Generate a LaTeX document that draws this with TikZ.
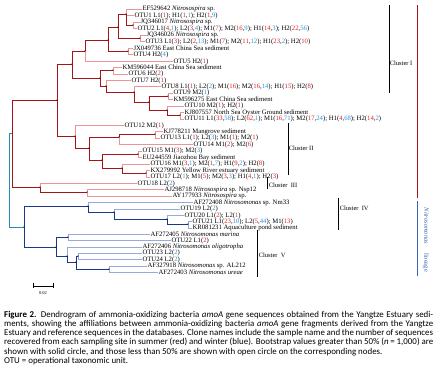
\documentclass[tikz,border=0pt]{standalone}
\usepackage{fontspec}
\setmainfont{Liberation Serif}
\newfontfamily\capfont{Carlito}
\definecolor{darkred}{HTML}{A51419}
\definecolor{pinkred}{HTML}{EB9696}
\definecolor{darkblue}{HTML}{19378C}
\definecolor{paleblue}{HTML}{96AADC}
\definecolor{rootteal}{HTML}{288CB4}
\definecolor{numred}{HTML}{E02020}
\definecolor{numblue}{HTML}{2A8FD8}
\definecolor{lineageblue}{HTML}{3A64B8}
\newcommand{\rn}[1]{\textcolor{numred}{#1}}
\newcommand{\bn}[1]{\textcolor{numblue}{#1}}

\begin{document}
\begin{tikzpicture}[x=1pt,y=-1pt]

% definitions
\tikzstyle{leaflab} = [anchor=west, inner sep=0.3pt, font=\fontsize{6.7}{6.7}\selectfont]
\tikzstyle{clusterlab} = [anchor=west, inner sep=0.6pt, font=\fontsize{6.5}{6.5}\selectfont]
\tikzstyle{rbranch} = [draw=darkred, line width=0.9pt]
\tikzstyle{rtip} = [draw=pinkred, line width=0.9pt]
\tikzstyle{bbranch} = [draw=darkblue, line width=0.9pt]
\tikzstyle{btip} = [draw=paleblue, line width=0.9pt]
\tikzstyle{rootline} = [draw=rootteal, line width=0.9pt]
\tikzstyle{bracket} = [draw=black, line width=0.6pt]

\useasboundingbox (0,0) rectangle (437,374);

% inner nodes
\coordinate (r) at (9,133);
\coordinate (A) at (12,133);
\coordinate (A1) at (57,100);
\coordinate (A2) at (40,187);
\coordinate (X1) at (72,64);
\coordinate (B) at (85,51);
\coordinate (n5) at (108,40);
\coordinate (n3) at (118,27);
\coordinate (n1) at (126,14);
\coordinate (n2) at (133,25);
\coordinate (n4) at (140,38);
\coordinate (n6) at (128,51);
\coordinate (D) at (100,78);
\coordinate (E) at (113,70);
\coordinate (F) at (106,86);
\coordinate (G) at (134,92);
\coordinate (H) at (149,102);
\coordinate (I) at (168,96);
\coordinate (J) at (167,110);
\coordinate (K) at (180,115);
\coordinate (C) at (75,136);
\coordinate (L) at (89,148);
\coordinate (M) at (119,137);
\coordinate (O) at (155,134);
\coordinate (N) at (102,160);
\coordinate (P) at (138,154);
\coordinate (Q) at (122,168);
\coordinate (R) at (146,173);
\coordinate (S) at (87,192);
\coordinate (Bl) at (24,227);
\coordinate (T) at (88,206);
\coordinate (U) at (114,212);
\coordinate (V) at (167,219);
\coordinate (W) at (188,224);
\coordinate (X) at (56,247);
\coordinate (Y) at (68,237);
\coordinate (Z) at (67,256);
\coordinate (Z2) at (76,262);
\coordinate (Z3) at (78,256);
\coordinate (Z4) at (109,269);

% leaves
\node (ef) [leaflab] at (142,9) {EF529642 \textit{Nitrosospira} sp.};
\node (otu1) [leaflab] at (134,15.5) {OTU1 L1(\rn{1}); H1(\rn{1},\bn{1}); H2(\rn{1},\bn{9})};
\node (jq17) [leaflab] at (140,22) {JQ346017 \textit{Nitrosospira} sp.};
\node (otu2) [leaflab] at (137,28.5) {OTU2 L1(\rn{4},\bn{1}); L2(\rn{3},\bn{4}); M1(\rn{7}); M2(\rn{16},\bn{9}); H1(\rn{14},\bn{3}); H2(\rn{22},\bn{56})};
\node (jq26) [leaflab] at (146,35) {JQ346026 \textit{Nitrosospira} sp.};
\node (otu3) [leaflab] at (145,41.5) {OTU3 L1(\rn{3}); L2(\rn{2},\bn{13}); M1(\rn{7}); M2(\rn{11},\bn{12}); H1(\rn{23},\bn{2}); H2(\rn{10})};
\node (jx) [leaflab] at (133,48) {JX049736 East China Sea sediment};
\node (otu4) [leaflab] at (133,54.5) {OTU4 H2(\bn{4})};
\node (otu5) [leaflab] at (173,61.5) {OTU5 H2(\rn{1})};
\node (km44) [leaflab] at (122,67.5) {KM596044 East China Sea sediment};
\node (otu6) [leaflab] at (128,74) {OTU6 H2(\rn{2})};
\node (otu7) [leaflab] at (131,80.5) {OTU7 H2(\rn{1})};
\node (otu8) [leaflab] at (161,86.5) {OTU8 L1(\rn{1}); L2(\bn{2}); M1(\rn{16}); M2(\rn{16},\bn{14}); H1(\rn{15}); H2(\rn{8})};
\node (otu9) [leaflab] at (173,93) {OTU9 M2(\bn{1})};
\node (km75) [leaflab] at (173,99.5) {KM596275 East China Sea sediment};
\node (otu10) [leaflab] at (184,106) {OTU10 M2(\rn{1}); H2(\rn{1})};
\node (kj57) [leaflab] at (184,112.5) {KJ807557 North Sea Oyster Ground sediment};
\node (otu11) [leaflab] at (184,119) {OTU11 L1(\rn{33},\bn{58}); L2(\rn{62},\bn{1}); M1(\rn{16},\bn{71}); M2(\rn{17},\bn{24}); H1(\rn{4},\bn{68}); H2(\rn{14},\bn{2})};
\node (otu12) [leaflab] at (124,125.5) {OTU12 M2(\rn{1})};
\node (kj11) [leaflab] at (163,131.5) {KJ778211 Mangrove sediment};
\node (otu13) [leaflab] at (160,138) {OTU13 L1(\rn{1}); L2(\bn{3}); M1(\rn{1}); M2(\rn{1})};
\node (otu14) [leaflab] at (193,144.5) {OTU14 M1(\rn{2}); M2(\rn{6})};
\node (otu15) [leaflab] at (142,151) {OTU15 M1(\rn{3}); M2(\bn{3})};
\node (eu) [leaflab] at (142,157.5) {EU244559 Jiaozhou Bay sediment};
\node (otu16) [leaflab] at (150,164) {OTU16 M1(\rn{3},\bn{1}); M2(\rn{1},\bn{7}); H1(\rn{9},\bn{2}); H2(\rn{8})};
\node (kx) [leaflab] at (150,170.5) {KX279992 Yellow River estuary sediment};
\node (otu17) [leaflab] at (150,177) {OTU17 L2(\bn{1}); M1(\rn{5}); M2(\rn{3},\bn{3}); H1(\rn{4},\bn{1}); H2(\rn{3})};
\node (otu18) [leaflab] at (137,183.5) {OTU18 L2(\bn{2})};
\node (aj) [leaflab] at (164,189.5) {AJ298718 \textit{Nitrosospira} sp. Nsp12};
\node (ay) [leaflab] at (172,196) {AY177933 \textit{Nitrosospira} sp.};
\node (af08) [leaflab] at (193,202.5) {AF272408 \textit{Nitrosomonas} sp. Nm33};
\node (otu19) [leaflab] at (180,209) {OTU19 L2(\bn{2})};
\node (otu20) [leaflab] at (184,215.5) {OTU20 L1(\rn{2}); L2(\rn{1})};
\node (otu21) [leaflab] at (192,221.5) {OTU21 L1(\rn{23},\bn{10}); L2(\rn{5},\bn{44}); M1(\rn{13})};
\node (kr) [leaflab] at (192,228) {KR081231 Aquaculture pond sediment};
\node (af05) [leaflab] at (150,234) {AF272405 \textit{Nitrosomonas marina}};
\node (otu22) [leaflab] at (171,240.5) {OTU22 L1(\rn{2})};
\node (af06) [leaflab] at (142,247) {AF272406 \textit{Nitrosomonas oligotropha}};
\node (otu23) [leaflab] at (142,253) {OTU23 L2(\bn{2})};
\node (otu24) [leaflab] at (142,259.5) {OTU24 L2(\bn{2})};
\node (af18) [leaflab] at (147,266) {AF327918 \textit{Nitrosomonas} sp. AL212};
\node (af03) [leaflab] at (158,272.5) {AF272403 \textit{Nitrosomonas ureae}};

% tips
\draw [rtip] (n1) |- (ef); \draw [rtip] (n1) |- (otu1);
\draw [rtip] (n2) |- (jq17); \draw [rtip] (n2) |- (otu2);
\draw [rtip] (n4) |- (jq26); \draw [rtip] (n4) |- (otu3);
\draw [rtip] (n6) |- (jx); \draw [rtip] (n6) |- (otu4);
\draw [rtip] (B) |- (otu5);
\draw [rtip] (E) |- (km44); \draw [rtip] (E) |- (otu6);
\draw [rtip] (F) |- (otu7); \draw [rtip] (G) |- (otu8);
\draw [rtip] (I) |- (otu9); \draw [rtip] (I) |- (km75);
\draw [rtip] (J) |- (otu10);
\draw [rtip] (K) |- (kj57); \draw [rtip] (K) |- (otu11);
\draw [rtip] (C) |- (otu12);
\draw [rtip] (O) |- (kj11); \draw [rtip] (O) |- (otu13);
\draw [rtip] (M) |- (otu14);
\draw [rtip] (P) |- (otu15); \draw [rtip] (P) |- (eu);
\draw [rtip] (Q) |- (otu16);
\draw [rtip] (R) |- (kx); \draw [rtip] (R) |- (otu17);
\draw [rtip] (A2) |- (otu18);
\draw [rtip] (S) |- (aj); \draw [rtip] (S) |- (ay);
\draw [btip] (T) |- (af08); \draw [btip] (U) |- (otu19);
\draw [btip] (V) |- (otu20);
\draw [btip] (W) |- (otu21); \draw [btip] (W) |- (kr);
\draw [btip] (Y) |- (af05); \draw [btip] (Y) |- (otu22);
\draw [btip] (Z) |- (af06);
\draw [btip] (Z3) |- (otu23); \draw [btip] (Z3) |- (otu24);
\draw [btip] (Z4) |- (af18); \draw [btip] (Z4) |- (af03);

% inner branches
\draw [rootline] (r) -- (A); \draw [rootline] (r) |- (Bl);
\draw [rbranch] (A) |- (A1); \draw [rbranch] (A) |- (A2);
\draw [rbranch] (A1) |- (X1); \draw [rbranch] (A1) |- (C);
\draw [rbranch] (X1) |- (B); \draw [rbranch] (X1) |- (D);
\draw [rbranch] (B) |- (n5); \draw [rbranch] (n5) |- (n3); \draw [rbranch] (n5) |- (n6);
\draw [rbranch] (n3) |- (n1); \draw [rbranch] (n3) |- (n4); \draw [rbranch] (n1) |- (n2);
\draw [rbranch] (D) |- (E); \draw [rbranch] (D) |- (F);
\draw [rbranch] (F) |- (G); \draw [rbranch] (G) |- (H);
\draw [rbranch] (H) |- (I); \draw [rbranch] (H) |- (J); \draw [rbranch] (J) |- (K);
\draw [rbranch] (C) |- (L); \draw [rbranch] (L) |- (M); \draw [rbranch] (L) |- (N);
\draw [rbranch] (M) |- (O); \draw [rbranch] (N) |- (P); \draw [rbranch] (N) |- (Q);
\draw [rbranch] (Q) |- (R);
\draw [rbranch] (A2) |- (S);
\draw [bbranch] (Bl) |- (T); \draw [bbranch] (Bl) |- (X);
\draw [bbranch] (T) |- (U); \draw [bbranch] (U) |- (V); \draw [bbranch] (V) |- (W);
\draw [bbranch] (X) |- (Y); \draw [bbranch] (X) |- (Z);
\draw [bbranch] (Z) |- (Z2); \draw [bbranch] (Z2) |- (Z3); \draw [bbranch] (Z2) |- (Z4);

% bootstrap dots
\foreach \k in {A1,A2,X1,B,n5,n3,n1,n2,n4,n6,D,E,F,G,H,I,J,K,C,L,M,O,N,P,Q,R,S,Bl,T,U,V,W,X,Y,Z,Z2,Z3,Z4}
  \fill (\k) circle (0.7pt);

% clusters
\draw [bracket] (389,5) -- (389,93);
\node (c1) [clusterlab] at (389,63) {Cluster I};
\draw [bracket] (288,123) -- (288,175);
\node (c2) [clusterlab] at (288,148) {Cluster II};
\draw [bracket] (267,177) -- (267,189);
\node (c3) [clusterlab] at (268,185) {Cluster\ \ III};
\draw [bracket] (338,198) -- (338,230);
\node (c4) [clusterlab] at (339,208) {Cluster\ \ IV};
\draw [bracket] (257,230) -- (257,277);
\node (c5) [clusterlab] at (258,255) {Cluster\ \ V};
\draw [darkred, line width=0.6pt] (417,5) -- (417,198);
\draw [lineageblue, line width=0.6pt] (417,201) -- (417,276);
\node (lineage) [rotate=-90, text=lineageblue, font=\fontsize{6.5}{6.5}\selectfont] at (426,240) {\textit{Nitrosomonas}\hspace{9pt}lineage};

% scale bar
\draw [line width=0.7pt] (33,286) -- (53,286);
\draw [line width=0.7pt] (33,283.5) -- (33,288.5);
\draw [line width=0.7pt] (53,283.5) -- (53,288.5);
\node (scale) [font=\fontsize{4.5}{4.5}\selectfont] at (43,293) {0.02};

% caption
\node (caption) [anchor=north west, inner sep=0pt, align=left, font=\capfont\fontsize{8.9}{9.15}\selectfont] at (4,311) {%
\makebox[429pt][s]{\textbf{Figure 2.} Dendrogram of ammonia-oxidizing bacteria \textit{amoA} gene sequences obtained from the Yangtze Estuary sedi-}\\
\makebox[429pt][s]{ments, showing the affiliations between ammonia-oxidizing bacteria \textit{amoA} gene fragments derived from the Yangtze}\\
\makebox[429pt][s]{Estuary and reference sequences in the databases. Clone names include the sample name and the number of sequences}\\
\makebox[429pt][s]{recovered from each sampling site in summer (red) and winter (blue). Bootstrap values greater than 50\% (\textit{n} = 1,000) are}\\
shown with solid circle, and those less than 50\% are shown with open circle on the corresponding nodes.\\
OTU = operational taxonomic unit.};

\end{tikzpicture}
\end{document}
